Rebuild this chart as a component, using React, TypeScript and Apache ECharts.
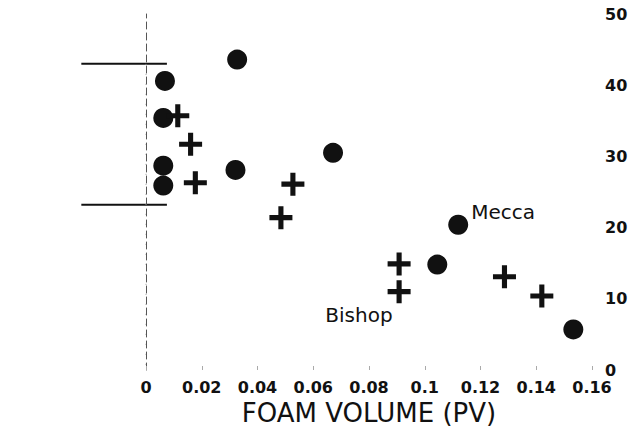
import React, { useEffect, useRef } from "react";
import * as echarts from "echarts";

// Foam volume (PV) vs. value, two field cases
const xTicks = [0, 0.02, 0.04, 0.06, 0.08, 0.1, 0.12, 0.14, 0.16];
const yTicks = [0, 10, 20, 30, 40, 50];

// Mecca (filled circles)
const meccaX = [0.0068, 0.0062, 0.0062, 0.0062, 0.0327, 0.0321, 0.0671, 0.112, 0.1045, 0.1533];
const meccaY = [40.6, 35.4, 28.7, 25.9, 43.6, 28.1, 30.5, 20.4, 14.8, 5.7];

// Bishop (crosses)
const bishopX = [0.0114, 0.016, 0.0177, 0.0527, 0.0484, 0.0908, 0.0908, 0.1286, 0.142];
const bishopY = [35.7, 31.7, 26.3, 26.1, 21.4, 14.9, 11.0, 13.1, 10.4];

// Bracket on the left edge: upper and lower bounds, horizontal extent
const bracketY = [43.0, 23.2];
const bracketX = [-0.0232, 0.0075];
// Dotted guide along x = 0
const guideY = [43.0, 0.7];

const FONT = "'DejaVu Sans', 'Liberation Sans', sans-serif";
const INK = "#111";

const CROSS = "path://M3.5,0h2v3.5h3.5v2h-3.5v3.5h-2v-3.5h-3.5v-2h3.5z";

export default function App() {
  const ref = useRef<HTMLDivElement>(null);

  useEffect(() => {
    if (!ref.current) return;
    const chart = echarts.init(ref.current, null, { renderer: "svg" });

    const mecca = meccaX.map((x, i) => {
      const p: any = { value: [x, meccaY[i]] };
      if (i === 7) {
        p.label = {
          show: true,
          formatter: "Mecca",
          position: [23, -3],
          align: "left",
          verticalAlign: "middle",
        };
      }
      return p;
    });

    const bishop = bishopX.map((x, i) => {
      const p: any = { value: [x, bishopY[i]] };
      if (i === 6) {
        p.label = {
          show: true,
          formatter: "Bishop",
          position: [5, 35],
          align: "right",
          verticalAlign: "middle",
        };
      }
      return p;
    });

    const labelStyle = {
      color: INK,
      fontFamily: FONT,
      fontSize: 20,
    };

    chart.setOption({
      animation: false,
      backgroundColor: "#fff",
      grid: { left: 146, right: 49, top: 14, bottom: 73 },
      xAxis: {
        type: "value",
        min: xTicks[0],
        max: xTicks[xTicks.length - 1],
        interval: 0.02,
        name: "FOAM VOLUME (PV)",
        nameLocation: "middle",
        nameGap: 19,
        nameTextStyle: { color: INK, fontFamily: FONT, fontSize: 26 },
        axisLine: { show: false },
        axisTick: { show: true, inside: true, length: 4, lineStyle: { color: "#aaa", width: 1 } },
        splitLine: { show: false },
        axisLabel: {
          color: INK,
          fontFamily: FONT,
          fontSize: 16,
          fontWeight: "bold",
          margin: 9,
          formatter: (v: number) => String(Number(v.toFixed(2))),
        },
      },
      yAxis: {
        type: "value",
        position: "right",
        offset: 11,
        min: yTicks[0],
        max: yTicks[yTicks.length - 1],
        interval: 10,
        axisLine: { show: true, lineStyle: { color: "#555", width: 1, type: [7, 4] } },
        axisTick: { show: false },
        splitLine: { show: false },
        axisLabel: {
          color: INK,
          fontFamily: FONT,
          fontSize: 16,
          fontWeight: "bold",
          margin: 2,
        },
      },
      series: [
        {
          type: "scatter",
          name: "Mecca",
          symbol: "circle",
          symbolSize: 20,
          itemStyle: { color: INK, opacity: 1 },
          label: labelStyle,
          data: mecca,
          clip: false,
        },
        {
          type: "scatter",
          name: "Bishop",
          symbol: CROSS,
          symbolSize: 23,
          itemStyle: { color: INK, opacity: 1 },
          label: labelStyle,
          data: bishop,
          clip: false,
        },
      ],
    });

    // Bracket and guide, placed through the axes' own scales
    const px = (x: number, y: number) =>
      chart.convertToPixel({ xAxisIndex: 0, yAxisIndex: 0 }, [x, y]) as number[];
    const elements: any[] = bracketY.map((y) => {
      const a = px(bracketX[0], y);
      const b = px(bracketX[1], y);
      return {
        type: "line",
        shape: { x1: a[0], y1: a[1], x2: b[0], y2: b[1] },
        style: { stroke: INK, lineWidth: 2 },
        silent: true,
      };
    });
    const g0 = px(0, guideY[0]);
    const g1 = px(0, guideY[1]);
    elements.push({
      type: "line",
      shape: { x1: g0[0], y1: g0[1], x2: g1[0], y2: g1[1] },
      style: { stroke: "#999", lineWidth: 1, lineDash: [1, 9] },
      silent: true,
    });
    chart.setOption({ graphic: elements });

    return () => chart.dispose();
  }, []);

  return <div ref={ref} style={{ width: 641, height: 443, position: "absolute", left: 0, top: 0 }} />;
}
